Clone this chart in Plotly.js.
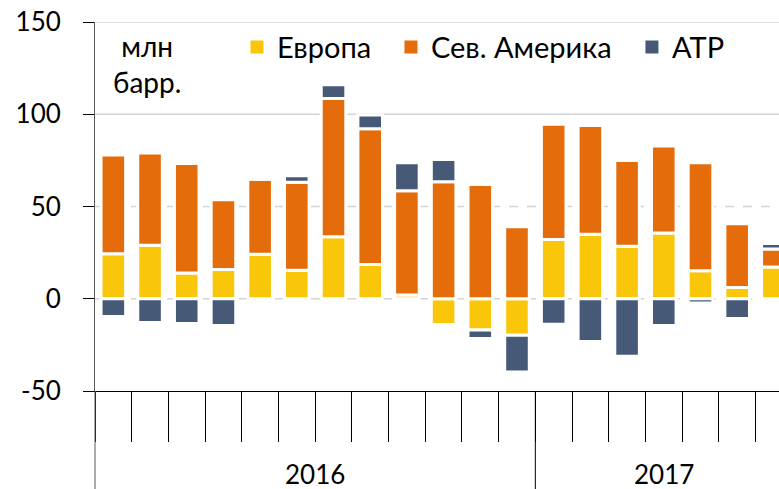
<!DOCTYPE html>
<html>
<head>
<meta charset="utf-8">
<script src="https://cdn.plot.ly/plotly-3.0.1.min.js"></script>
<style>html,body{margin:0;padding:0;background:#fff;}#chart{width:779px;height:489px;}</style>
</head>
<body>
<div id="chart"></div>
<script>
var categories = ['янв 2016','фев 2016','мар 2016','апр 2016','май 2016','июн 2016','июл 2016','авг 2016','сен 2016','окт 2016','ноя 2016','дек 2016',
                  'янв 2017','фев 2017','мар 2017','апр 2017','май 2017','июн 2017','июл 2017'];
var europe   = [24.4, 29.0, 13.9, 15.9, 24.1, 15.4, 33.6, 18.6, 2.1, -13.9, -16.9, -19.8, 32.1, 35.0, 28.4, 35.7, 15.2, 6.1, 17.2];
var nAmerica = [53.5, 50.0, 59.4, 37.7, 40.7, 47.7, 74.9, 73.5, 56.4, 63.4, 61.9, 39.0, 62.5, 58.9, 46.6, 47.1, 58.5, 34.6, 9.8];
var apac     = [-9.6, -12.9, -13.4, -14.5, 0, 3.5, 7.5, 7.5, 15.2, 12.1, -4.7, -19.9, -13.8, -23.2, -31.2, -14.5, -2.3, -10.7, 2.9];
var seriesNames = ['Европа', 'Сев. Америка', 'АТР'];
var yTicks = [-50, 0, 50, 100, 150];
var yearLabels = ['2016', '2017'];

var colors = ['#F9C60A', '#E46C0A', '#465A78'];
var FONT = 'Lato, "Open Sans", sans-serif';
var seriesValues = [europe, nAmerica, apac];
var legendIds = ['legend', 'legend2', 'legend3'];

var data = [];
seriesValues.forEach(function (vals, i) {
  data.push({
    type: 'bar', x: categories, y: vals, name: seriesNames[i], showlegend: false,
    marker: {color: colors[i], line: {color: '#ffffff', width: 3}},
    hoverinfo: 'skip'
  });
});
// legend entries (square swatches)
seriesNames.forEach(function (nm, i) {
  data.push({
    type: 'scatter', mode: 'markers', x: [null], y: [null], name: nm, legend: legendIds[i], showlegend: true,
    marker: {symbol: 'square', size: 13, color: colors[i], line: {width: 0}},
    hoverinfo: 'skip'
  });
});

var shapes = [];
[[150, 'solid'], [100, 'solid'], [50, 'dash'], [0, 'dash']].forEach(function (g) {
  shapes.push({type: 'line', xref: 'paper', yref: 'y', x0: 0, x1: 1, y0: g[0], y1: g[0],
    line: {color: '#d4d4d4', width: 1.5, dash: g[1]}, layer: 'below'});
});
// y axis extension down to the bottom of the page
shapes.push({type: 'line', xref: 'paper', yref: 'paper', x0: 0, x1: 0, y0: 0, y1: -0.27,
  line: {color: '#595959', width: 1}});
// divider between years
shapes.push({type: 'line', xref: 'x', yref: 'paper', x0: 11.5, x1: 11.5, y0: 0, y1: -0.27,
  line: {color: '#000000', width: 1}});

var legBase = {orientation: 'h', yanchor: 'middle', y: 0.932, xanchor: 'left',
  bgcolor: 'rgba(0,0,0,0)', font: {family: FONT, size: 29, color: '#000'}};
function leg(x) { var o = Object.assign({}, legBase); o.x = x; return o; }

var layout = {
  width: 779, height: 489,
  margin: {l: 95, r: 0, t: 22, b: 98, pad: 0},
  paper_bgcolor: '#ffffff', plot_bgcolor: '#ffffff',
  barmode: 'relative', bargap: 0.33,
  showlegend: true,
  legend: leg(0.2076), legend2: leg(0.4327), legend3: leg(0.785),
  xaxis: {type: 'category', range: [-0.5, 18.14], showgrid: false, zeroline: false,
    showline: true, linecolor: '#000000', linewidth: 1,
    ticks: 'outside', tickson: 'boundaries', ticklen: 50, tickcolor: '#000000', tickwidth: 1,
    showticklabels: false, fixedrange: true},
  yaxis: {range: [-50, 150], tickvals: yTicks, ticktext: yTicks.map(String), showgrid: false, zeroline: false,
    showline: true, linecolor: '#595959', linewidth: 1,
    ticks: 'outside', ticklen: 11, tickcolor: '#000000', tickwidth: 1,
    ticklabelstandoff: 17,
    tickfont: {family: FONT, size: 26, color: '#000'}, fixedrange: true},
  shapes: shapes,
  annotations: [
    {text: 'млн<br>барр.', xref: 'paper', yref: 'paper', x: 0.076, y: 0.887, xanchor: 'center', yanchor: 'middle',
      align: 'center', showarrow: false, font: {family: FONT, size: 28, color: '#000'}},
    {text: yearLabels[0], xref: 'x', yref: 'paper', x: 5.5, y: -0.225, xanchor: 'center', yanchor: 'middle',
      showarrow: false, font: {family: FONT, size: 26, color: '#000'}},
    {text: yearLabels[1], xref: 'x', yref: 'paper', x: 15, y: -0.225, xanchor: 'center', yanchor: 'middle',
      showarrow: false, font: {family: FONT, size: 26, color: '#000'}}
  ]
};

Plotly.newPlot('chart', data, layout, {displayModeBar: false, staticPlot: true});
</script>
</body>
</html>
